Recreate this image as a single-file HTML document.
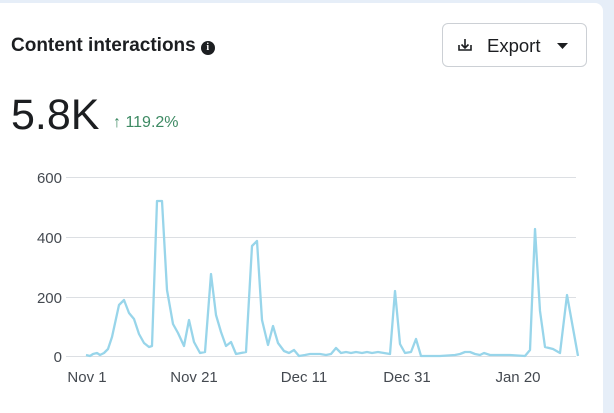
<!DOCTYPE html>
<html><head><style>
html,body{margin:0;padding:0;width:614px;height:405px;overflow:hidden;background:#e6eef8;font-family:"Liberation Sans",sans-serif;}
.card{position:absolute;left:0;top:3px;width:603px;height:410px;background:#fff;border-top-right-radius:8px;}
.title{position:absolute;left:11px;top:35px;font-size:19px;font-weight:bold;color:#1c1e21;letter-spacing:0;}
.info{display:inline-block;width:14px;height:14px;border-radius:50%;background:#1c1e21;color:#fff;font-size:10px;text-align:center;line-height:14px;vertical-align:1px;margin-left:5px;font-family:"Liberation Serif",serif;}
.btn{position:absolute;left:442px;top:23px;width:145px;height:44px;border:1px solid #ccd0d5;border-radius:6px;box-sizing:border-box;}
.big{position:absolute;left:11px;top:91px;font-size:43px;color:#1c1e21;}
.pct{position:absolute;left:113px;top:114px;font-size:16px;color:#3d8a63;}
</style></head><body>
<div class="card"></div>
<div class="title">Content interactions<span class="info">i</span></div>
<div class="btn">
<svg width="145" height="44" style="position:absolute;left:-1px;top:-1px">
<g stroke="#1c1e21" stroke-width="1.6" fill="none"><path d="M23 16v9M19.5 21.5l3.5 3.5 3.5-3.5M17 22v5h12v-5"/></g>
<text x="45" y="29" font-size="18.5" fill="#1c1e21" font-family="Liberation Sans">Export</text>
<path d="M115 20h11l-5.5 6z" fill="#1c1e21"/>
</svg></div>
<div class="big">5.8K</div>
<div class="pct">↑ 119.2%</div>
<svg width="614" height="405" style="position:absolute;left:0;top:0">
<g stroke="#dcdfe3" stroke-width="1">
<line x1="66" x2="576" y1="177.5" y2="177.5"/><line x1="66" x2="576" y1="237.5" y2="237.5"/>
<line x1="66" x2="576" y1="297.5" y2="297.5"/><line x1="66" x2="576" y1="356.5" y2="356.5"/>
</g>
<g font-size="15" fill="#444950" text-anchor="end" font-family="Liberation Sans">
<text x="62" y="183">600</text><text x="62" y="243">400</text><text x="62" y="303">200</text><text x="62" y="362">0</text>
</g>
<g font-size="15" fill="#444950" text-anchor="middle" font-family="Liberation Sans">
<text x="87" y="382">Nov 1</text><text x="194" y="382">Nov 21</text><text x="304" y="382">Dec 11</text><text x="407" y="382">Dec 31</text><text x="518" y="382">Jan 20</text>
</g>
<polyline fill="none" stroke="#98d5ea" stroke-width="2.3" stroke-linejoin="round" points="86,355 90,356 93,354 97,353 100,355 104,353 108,349 112,337 119,305 124,300 129,313 134,319 139,334 144,343 149,347 152,346 157,201 162,201 167,290 173,324 178,333 184,346 189,320 194,342 200,353 205,352 211,274 216,315 221,332 226,346 231,342 236,354 241,353 246,352 252,246 257,241 262,320 268,345 273,326 278,343 284,351 289,353 294,350 299,356 305,355 310,354 315,354 320,354 326,355 331,354 336,348 341,353 346,352 351,353 356,352 362,353 367,352 372,353 378,352 384,353 390,354 395,291 400,344 405,353 411,352 416,339 421,356 430,356 440,356 455,355 460,354 465,352 470,352 475,354 480,355 484,353 490,355 500,355 510,355 525,356 530,350 535,229 540,311 545,347 553,349 560,353 567,295 578,356"/>
</svg>
</body></html>
